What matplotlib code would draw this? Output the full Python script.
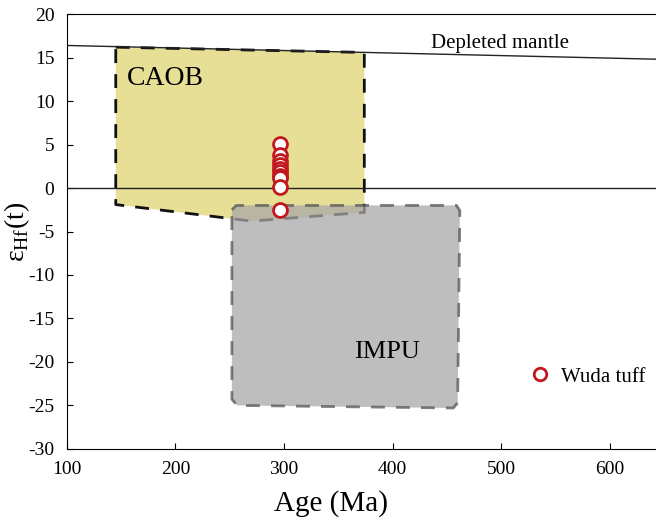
import matplotlib.pyplot as plt
import numpy as np
from matplotlib.patches import Polygon

plt.rcParams['font.family'] = ['Liberation Serif', 'DejaVu Serif']
plt.rcParams['mathtext.fontset'] = 'custom'
plt.rcParams['mathtext.rm'] = 'Liberation Serif'
plt.rcParams['axes.unicode_minus'] = False

# data
wuda_age = [296, 296, 296, 296, 296, 296, 296, 296, 296, 296]
wuda_ehf = [5.1, 3.75, 3.1, 2.7, 2.2, 1.8, 1.4, 1.1, 0.1, -2.5]

dm_age = [100, 650]
dm_ehf = [16.4, 14.8]

caob_age = [145, 147, 374, 374, 270, 145]
caob_ehf = [16.2, 16.2, 15.6, -2.8, -3.8, -1.9]

impu_age = [252, 256, 459, 462, 460, 456, 257, 252]
impu_ehf = [-2.5, -2.0, -2.0, -2.6, -24.7, -25.3, -25.0, -24.3]

fig = plt.figure(figsize=(6.56, 5.25), dpi=100)
ax = fig.add_axes([0.102, 0.145, 0.91, 0.828])

ax.add_patch(Polygon(np.column_stack([caob_age, caob_ehf]), closed=True,
                     facecolor='#e8df96', edgecolor='#111111', lw=2.0,
                     ls=(0, (5, 4)), joinstyle='round', zorder=1))
ax.add_patch(Polygon(np.column_stack([impu_age, impu_ehf]), closed=True,
                     facecolor='#a8a8a8', alpha=0.75, edgecolor='#555555', lw=2.0,
                     ls=(0, (5, 4)), joinstyle='round', zorder=2))

ax.plot(dm_age, dm_ehf, color='#222222', lw=1.0, zorder=3)
ax.axhline(0, color='#222222', lw=1.0, zorder=3)

ax.plot(wuda_age, wuda_ehf, 'o', ms=10, mfc='white', mec='#c0181e', mew=2.0,
        ls='none', label='Wuda tuff', zorder=5)

ax.text(435, 15.5, 'Depleted mantle', fontsize=15, va='bottom')
ax.text(155, 11.8, 'CAOB', fontsize=20)
ax.text(365, -19.6, 'IMPU', fontsize=19)

ax.legend(loc='lower right', bbox_to_anchor=(1.0, 0.1), frameon=False,
          fontsize=15, handletextpad=0.0, markerscale=0.9)

ax.set_xlim(100, 650)
ax.set_ylim(-30, 20)
ax.set_xticks([100, 200, 300, 400, 500, 600])
ax.set_yticks(np.arange(-30, 21, 5))
ax.tick_params(direction='in', labelsize=14, length=4, pad=9)
ax.spines['right'].set_visible(False)

ax.set_xlabel('Age (Ma)', fontsize=21)
ax.xaxis.set_label_coords(0.442, -0.095)
ax.set_ylabel('ε$_{\\mathrm{Hf}}$(t)', fontsize=20)
ax.yaxis.set_label_coords(-0.058, 0.5)

fig.savefig('out.png', dpi=100)
